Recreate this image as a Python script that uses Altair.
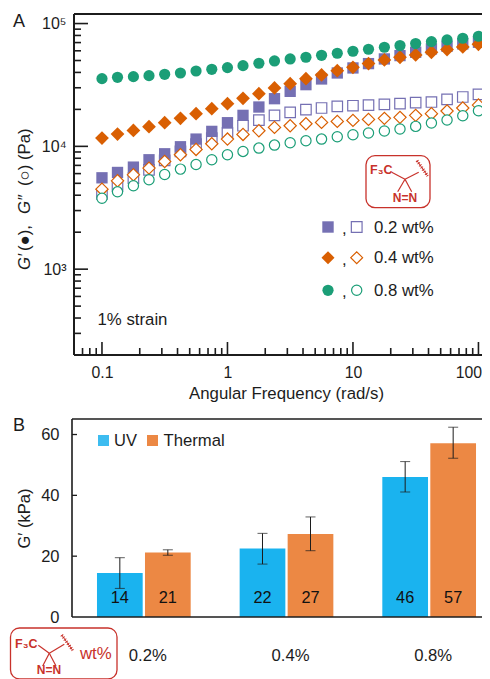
import altair as alt
import pandas as pd

FONT = "Liberation Sans"
INK = "#1c1c1c"
RED = "#c8322b"
PURPLE, ORANGE, GREEN = "#7570b3", "#d95f02", "#1b9e77"
UV_C, TH_C = "#1ab3ef", "#ec8844"

# ---------- panel A data ----------
freq = [0.1, 0.133, 0.178, 0.237, 0.316, 0.422, 0.562, 0.75, 1, 1.33, 1.78, 2.37, 3.16,
        4.22, 5.62, 7.5, 10, 13.3, 17.8, 23.7, 31.6, 42.2, 56.2, 75, 100]
p_fill = [5545, 6130, 6775, 7777, 8700, 9924, 11460, 13240, 15580, 17880, 20910, 24440, 28060,
          31800, 35380, 39580, 43500, 47180, 51500, 54830, 58390, 62140, 65300, 68240, 70400]
p_open = [4106, 4771, 5510, 6444, 7680, 9093, 10430, 11680, 12830, 14720, 16380, 17880, 18920,
          19900, 20520, 21180, 21420, 21690, 21970, 22250, 22670, 22960, 24150, 25220, 26520]
o_fill = [11680, 12590, 13490, 14450, 15580, 16900, 18450, 20270, 22250, 24600, 26850, 29880, 32400,
          35600, 38130, 41350, 44040, 47180, 50530, 53150, 55530, 58390, 61360, 64540, 67820]
o_open = [4482, 5240, 5865, 6650, 7536, 8540, 9441, 10500, 11460, 12510, 13400, 14270, 14720,
          15280, 15670, 15970, 16270, 16580, 16900, 17220, 17880, 18450, 19400, 20520, 21690]
g_fill = [35600, 36500, 36950, 37660, 38620, 39580, 41100, 42410, 43770, 45430, 47480, 49600, 51500,
          53150, 55150, 57280, 59480, 61760, 64120, 66180, 68700, 71300, 73600, 75900, 78800]
g_open = [3784, 4263, 4771, 5341, 5904, 6525, 7123, 7777, 8540, 9093, 9681, 10240, 10700,
          11110, 11460, 11980, 12430, 12830, 13320, 13830, 14540, 15480, 16380, 17770, 19510]

x_major = [0.1, 1, 10, 100]
x_labelled = [0.1, 1, 10]
x_minor = [0.06, 0.07, 0.08, 0.09, 0.2, 0.3, 0.4, 0.5, 0.6, 0.7, 0.8, 0.9,
           2, 3, 4, 5, 6, 7, 8, 9, 20, 30, 40, 50, 60, 70, 80, 90]
y_major = [1000, 10000, 100000]
y_minor = [200, 300, 400, 500, 600, 700, 800, 900,
           2000, 3000, 4000, 5000, 6000, 7000, 8000, 9000,
           20000, 30000, 40000, 50000, 60000, 70000, 80000, 90000]

# ---------- panel B data ----------
groups = ["0.2%", "0.2%", "0.4%", "0.4%", "0.8%", "0.8%"]
group_order = ["0.2%", "0.4%", "0.8%"]
methods = ["UV", "Thermal", "UV", "Thermal", "UV", "Thermal"]
modulus = [14.5, 21.2, 22.5, 27.3, 46.0, 57.1]
err_low = [9.4, 20.3, 17.4, 21.8, 41.1, 52.2]
err_high = [19.5, 22.1, 27.5, 32.9, 51.1, 62.4]
bar_labels = ["14", "21", "22", "27", "46", "57"]
b_ticks = [20, 40, 60]

# ---------- layout in page pixels ----------
AX, AY, AH = 71, 14, 341
BY, BH = 418, 198
W = 411
RIGHT = 481

one = alt.Data(values=[{}])


def text(s, x, y, ox, oy, size=16.7, color=INK, **kw):
    kw.setdefault("align", "left")
    kw.setdefault("baseline", "middle")
    return alt.Chart(one).mark_text(font=FONT, fontSize=size, color=color, **kw).encode(
        x=alt.value(x - ox), y=alt.value(y - oy), text=alt.value(s))


def seg(x1, y1, x2, y2, ox, oy, color=INK, w=1.0):
    return alt.Chart(one).mark_rule(color=color, strokeWidth=w).encode(
        x=alt.value(x1 - ox), y=alt.value(y1 - oy), x2=alt.value(x2 - ox), y2=alt.value(y2 - oy))


def icon(oy, box, center, ends, fc, nn, squig, ox=AX):
    x1, y1, x2, y2 = box
    parts = [alt.Chart(one).mark_rect(filled=False, stroke=RED, strokeWidth=1.3, cornerRadius=9).encode(
        x=alt.value(x1 - ox), y=alt.value(y1 - oy), x2=alt.value(x2 - ox), y2=alt.value(y2 - oy))]
    for ex, ey in ends:
        parts.append(seg(center[0], center[1], ex, ey, ox, oy, RED, 1.2))
    parts.append(seg(squig[0], squig[1], squig[2], squig[3], ox, oy, RED, 1.0))
    parts.append(alt.Chart(one).mark_rule(color=RED, strokeWidth=3.2, strokeDash=[1, 1.6]).encode(
        x=alt.value(squig[0] - ox), y=alt.value(squig[1] - oy),
        x2=alt.value(squig[2] - ox), y2=alt.value(squig[3] - oy)))
    parts.append(text("F₃C", fc[0], fc[1], ox, oy, size=12.5, color=RED, fontWeight="bold"))
    parts.append(text("N=N", nn[0], nn[1], ox, oy, size=12, color=RED, fontWeight="bold", align="center"))
    return parts


# ---------- panel A ----------
xs = alt.Scale(type="log", domain=[0.0577, 108.7], range=[0, W], nice=False)
ys = alt.Scale(type="log", domain=[200, 119600], range=[AH, 0], nice=False)
x_axis = alt.Axis(values=x_labelled, format="~g", ticks=False, domain=False, grid=False,
                  labelFont=FONT, labelFontSize=15.8, labelColor=INK, labelPadding=10,
                  labelFlush=False, labelBound=False,
                  title="Angular Frequency (rad/s)", titleFont=FONT, titleFontSize=16.8,
                  titleFontWeight="normal", titleColor=INK, titleX=214, titleY=38, titleBaseline="middle")
y_axis = alt.Axis(values=y_major, ticks=False, domain=False, grid=False, title=None,
                  labelExpr="datum.value==1000?'10³':datum.value==10000?'10⁴':'10⁵'",
                  labelFont=FONT, labelFontSize=16, labelColor=INK, labelPadding=6)
X_A = alt.X("f:Q", scale=xs, axis=x_axis)
Y_A = alt.Y("v:Q", scale=ys, axis=y_axis)


def series(vals, shape, color, filled, size):
    df = pd.DataFrame({"f": freq, "v": vals})
    if filled:
        m = alt.Chart(df).mark_point(shape=shape, filled=True, fill=color, stroke=color,
                                     strokeWidth=0, size=size, opacity=1)
    else:
        m = alt.Chart(df).mark_point(shape=shape, filled=False, fill="white", stroke=color,
                                     strokeWidth=1.2, size=size, opacity=1)
    return m.encode(x=X_A, y=Y_A)


def x_ticks(vals, ln):
    return alt.Chart(pd.DataFrame({"f": vals})).mark_rule(color=INK, strokeWidth=1.6).encode(
        x=X_A, y=alt.value(AH), y2=alt.value(AH - ln))


def y_ticks(vals, ln):
    return alt.Chart(pd.DataFrame({"v": vals})).mark_rule(color=INK, strokeWidth=1.6).encode(
        y=Y_A, x=alt.value(2), x2=alt.value(2 + ln))


def legend_marker(shape, color, filled, x, y, size):
    m = alt.Chart(one).mark_point(shape=shape, filled=filled, stroke=color, size=size, opacity=1,
                                  strokeWidth=0 if filled else 1.2,
                                  fill=color if filled else "white")
    return m.encode(x=alt.value(x - AX), y=alt.value(y - AY))


a_layers = [
    series(p_open, "square", PURPLE, False, 110),
    series(p_fill, "square", PURPLE, True, 128),
    series(o_open, "diamond", ORANGE, False, 150),
    series(o_fill, "diamond", ORANGE, True, 190),
    series(g_open, "circle", GREEN, False, 105),
    series(g_fill, "circle", GREEN, True, 125),
    x_ticks(x_major, 13), x_ticks(x_minor, 7),
    y_ticks(y_major, 14), y_ticks(y_minor, 7),
    seg(73, 14, RIGHT, 14, AX, AY, INK, 2), seg(73, 14, 73, 355, AX, AY, INK, 2),
    seg(73, 355, RIGHT, 355, AX, AY, INK, 2),
    text("A", 12, 22, AX, AY, size=18),
    text("100", 481, 372.5, AX, AY, size=15.8, align="right"),
    text("1% strain", 96.5, 320, AX, AY, size=16.8),
    text("G′", 24, 270, AX, AY, size=16.8, angle=270, fontStyle="italic"),
    text("(●),", 24, 251, AX, AY, size=16.8, angle=270),
    text("G″", 24, 214, AX, AY, size=16.8, angle=270, fontStyle="italic"),
    text("(○) (Pa)", 24, 186, AX, AY, size=16.8, angle=270),
]
for y, shape, col, lab, s1, s2 in [(227, "square", PURPLE, "0.2 wt%", 130, 115),
                                   (257.7, "diamond", ORANGE, "0.4 wt%", 170, 140),
                                   (290.3, "circle", GREEN, "0.8 wt%", 125, 105)]:
    a_layers += [legend_marker(shape, col, True, 327, y, s1),
                 legend_marker(shape, col, False, 355.7, y, s2),
                 text(",", 341, y + 2, AX, AY, size=16.8),
                 text(lab, 373, y + 0.5, AX, AY, size=16.8)]
a_layers += icon(AY, (365, 155.7, 429, 207.7), (404, 179.3),
                 [(390.7, 172.3), (417.7, 172.3), (396.7, 191.7), (410.7, 191.7)],
                 (369, 170), (404, 197.5), (416, 160.7, 426.7, 176))

panel_a = alt.layer(*a_layers).properties(width=W, height=AH)

# ---------- panel B ----------
bdf = pd.DataFrame({"g": groups, "m": methods, "v": modulus, "lo": err_low, "hi": err_high, "t": bar_labels})
gdf = pd.DataFrame({"g": group_order})
bx = alt.Scale(domain=group_order, range=[0.5, 428.5], paddingInner=0, paddingOuter=0)
by = alt.Scale(domain=[0, 65.1], range=[BH, 0], nice=False)
off = alt.XOffset("m:N", scale=alt.Scale(domain=["UV", "Thermal"], paddingInner=0.048, paddingOuter=0.51))
by_axis = alt.Axis(values=[0, 20, 40, 60], ticks=False, domain=False, grid=False,
                   labelFont=FONT, labelFontSize=16.5, labelColor=INK, labelPadding=13,
                   title="G′ (kPa)", titleFont=FONT, titleFontSize=16.5, titleFontWeight="normal",
                   titleColor=INK, titlePadding=8)
X_B = alt.X("g:N", scale=bx, sort=group_order, axis=None)

bars = alt.Chart(bdf).mark_bar().encode(
    x=X_B, xOffset=off, y=alt.Y("v:Q", scale=by, axis=by_axis),
    color=alt.Color("m:N", scale=alt.Scale(domain=["UV", "Thermal"], range=[UV_C, TH_C]), legend=None),
)
err = alt.Chart(bdf).mark_rule(color=INK, strokeWidth=1).encode(
    x=X_B, xOffset=off, y=alt.Y("lo:Q", scale=by, axis=by_axis), y2="hi:Q")
cap_lo = alt.Chart(bdf).mark_tick(color=INK, thickness=1, size=10, orient="horizontal").encode(
    x=X_B, xOffset=off, y=alt.Y("lo:Q", scale=by, axis=by_axis))
cap_hi = alt.Chart(bdf).mark_tick(color=INK, thickness=1, size=10, orient="horizontal").encode(
    x=X_B, xOffset=off, y=alt.Y("hi:Q", scale=by, axis=by_axis))
bar_text = alt.Chart(bdf).mark_text(font=FONT, fontSize=16.3, color="#111").encode(
    x=X_B, xOffset=off, y=alt.value(179), text="t:N")
group_text = alt.Chart(gdf).mark_text(font=FONT, fontSize=16.7, color=INK, dx=4).encode(
    x=X_B, y=alt.value(655 - BY), text="g:N")
b_tick = alt.Chart(pd.DataFrame({"v": b_ticks})).mark_rule(color=INK, strokeWidth=1.3).encode(
    y=alt.Y("v:Q", scale=by, axis=by_axis), x=alt.value(0), x2=alt.value(5))


def swatch(x1, x2, color):
    return alt.Chart(one).mark_rect(color=color).encode(
        x=alt.value(x1 - AX), x2=alt.value(x2 - AX), y=alt.value(434 - BY), y2=alt.value(445 - BY))


b_layers = [
    bars, err, cap_lo, cap_hi, bar_text, group_text, b_tick,
    seg(71, 418, RIGHT, 418, AX, BY, INK, 1.6), seg(71, 418, 71, 616, AX, BY, INK, 1.6),
    seg(71, 616, RIGHT, 616, AX, BY, INK, 1.6),
    text("B", 12, 425, AX, BY, size=18),
    swatch(97, 108, "#3dbcf0"), swatch(146, 157, TH_C),
    text("UV", 113, 440, AX, BY, size=16.5), text("Thermal", 162.5, 440, AX, BY, size=16.7),
]
b_layers += icon(BY, (9.5, 627, 116, 678), (48.3, 652.3),
                 [(37.3, 644.3), (63.3, 643.3), (41.7, 665), (55, 665)],
                 (14, 642.7), (48, 669), (60.7, 634, 71.7, 649.3))
b_layers.append(text("wt%", 79, 653, AX, BY, size=16.8, color=RED))

panel_b = alt.layer(*b_layers).properties(width=W, height=BH)

chart = alt.vconcat(panel_a, panel_b, spacing=15).properties(
    padding={"left": 1, "top": 5, "right": -5, "bottom": 0}
).configure_view(stroke=None)

chart.save("out.html", embed_options={"renderer": "svg", "actions": False})
